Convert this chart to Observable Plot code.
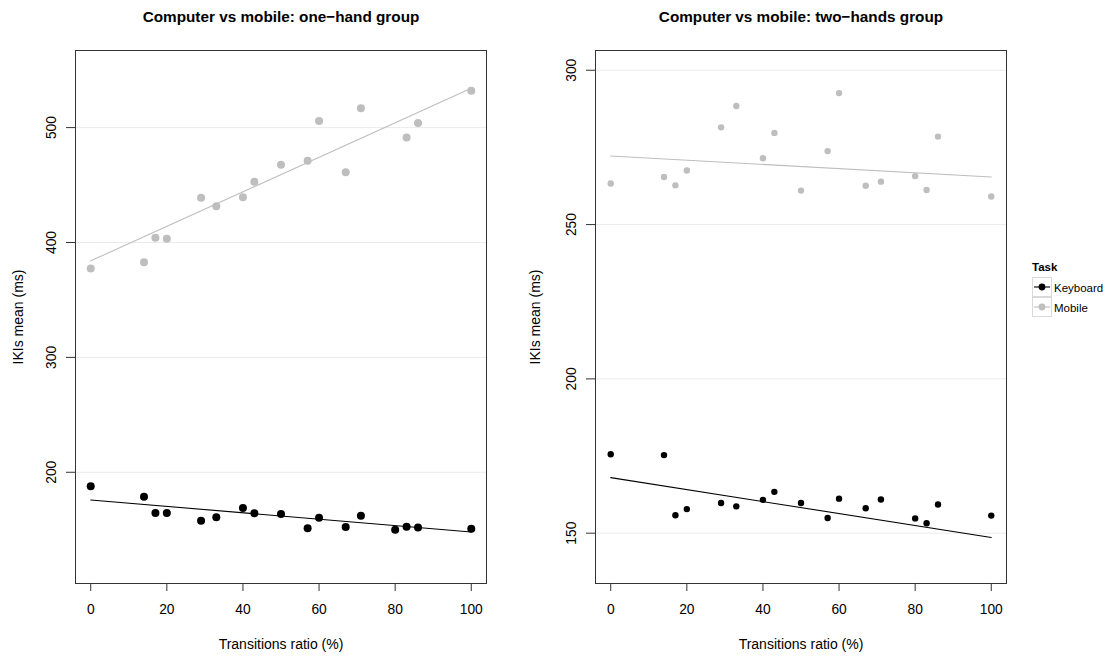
<!DOCTYPE html>
<html>
<head>
<meta charset="utf-8">
<script src="https://cdn.jsdelivr.net/npm/d3@7"></script>
<script src="https://cdn.jsdelivr.net/npm/@observablehq/plot@0.6"></script>
<style>
  html, body { margin: 0; padding: 0; background: #fff; }
  #root { position: relative; width: 1110px; height: 657px; font-family: "Liberation Sans", Arial, Helvetica, sans-serif; }
  .panel { position: absolute; top: 0; }
  #legend { position: absolute; left: 1026px; top: 255px; }
</style>
</head>
<body>
<div id="root"></div>
<script>
// ---- data ----
const ratio = [0, 14, 17, 20, 29, 33, 40, 43, 50, 57, 60, 67, 71, 80, 83, 86, 100];

const oneHandKeyboard = [187.8, 178.8, 164.6, 164.6, 157.9, 160.8, 169.0, 164.3, 163.7, 151.2, 160.5, 152.3, 162.2, 150.0, 152.6, 152.0, 150.9];
const oneHandMobile   = [377.4, 382.7, 404.1, 403.2, 439.0, 431.5, 439.3, 452.9, 467.7, 471.2, 505.8, 461.1, 516.9, null, 491.3, 504.1, 532.0];

const twoHandsKeyboard = [175.6, 175.3, 155.8, 157.8, 159.8, 158.7, 160.8, 163.4, 159.8, 154.9, 161.2, 158.1, 160.9, 154.8, 153.2, 159.3, 155.7];
const twoHandsMobile   = [263.3, 265.4, 262.7, 267.5, 281.5, 288.4, 271.5, 279.7, 261.0, 273.8, 292.6, 262.6, 263.9, 265.7, 261.2, 278.5, 259.1];

// fitted trend lines (end points at ratio 0 and 100)
const fitRatio = [0, 100];
const oneHandKeyboardFit  = [175.9, 148.0];
const oneHandMobileFit    = [384.0, 534.3];
const twoHandsKeyboardFit = [168.0, 148.6];
const twoHandsMobileFit   = [272.2, 265.4];

const xTicks = [0, 20, 40, 60, 80, 100];
const oneHandYTicks = [200, 300, 400, 500];
const twoHandsYTicks = [150, 200, 250, 300];

const titles = ["Computer vs mobile: one\u2212hand group", "Computer vs mobile: two\u2212hands group"];
const xLabel = "Transitions ratio (%)";
const yLabel = "IKIs mean (ms)";
const taskNames = ["Keyboard", "Mobile"];
const taskColors = ["#000000", "#bebebe"];

// ---- panels ----
function panel({title, kb, mob, kbFit, mobFit, yDomain, yTicks, r, yLabelDx}) {
  return Plot.plot({
    width: 520,
    height: 657,
    marginLeft: 75,
    marginRight: 34,
    marginTop: 50,
    marginBottom: 74,
    style: {fontFamily: "'Liberation Sans', Arial, Helvetica, sans-serif", fontSize: "13.8px", background: "transparent", overflow: "visible"},
    x: {domain: [-4, 104]},
    y: {domain: yDomain},
    marks: [
      Plot.gridY(yTicks, {stroke: "#ebebeb", strokeOpacity: 1}),
      Plot.line(fitRatio, {x: fitRatio, y: mobFit, stroke: taskColors[1], strokeWidth: 1.1}),
      Plot.line(fitRatio, {x: fitRatio, y: kbFit, stroke: taskColors[0], strokeWidth: 1.1}),
      Plot.dot(ratio, {x: ratio, y: mob, r, fill: taskColors[1], stroke: "none"}),
      Plot.dot(ratio, {x: ratio, y: kb, r, fill: taskColors[0], stroke: "none"}),
      Plot.frame({stroke: "#333333"}),
      Plot.axisX(xTicks, {tickSize: 8, tickPadding: 13, label: null, stroke: "#333333", fill: "#000", fontSize: 13.8}),
      Plot.axisY(yTicks, {tickSize: 9, tickPadding: 11, tickRotate: -90, label: null, stroke: "#333333", fill: "#000", fontSize: 13.8}),
      Plot.text([title], {frameAnchor: "top", dy: -33, text: d => d, fontWeight: "bold", fontSize: 15.3, textAnchor: "middle", lineAnchor: "middle"}),
      Plot.text([xLabel], {frameAnchor: "bottom", dy: 61, text: d => d, fontSize: 14, textAnchor: "middle", lineAnchor: "middle"}),
      Plot.text([yLabel], {frameAnchor: "left", dx: yLabelDx, rotate: -90, text: d => d, fontSize: 14, textAnchor: "middle", lineAnchor: "middle"})
    ]
  });
}

const root = document.getElementById("root");

const left = panel({
  title: titles[0], kb: oneHandKeyboard, mob: oneHandMobile,
  kbFit: oneHandKeyboardFit, mobFit: oneHandMobileFit,
  yDomain: [103.2, 567.1], yTicks: oneHandYTicks, r: 4, yLabelDx: -57
});
left.classList.add("panel");
left.style.left = "0px";
root.appendChild(left);

const right = panel({
  title: titles[1], kb: twoHandsKeyboard, mob: twoHandsMobile,
  kbFit: twoHandsKeyboardFit, mobFit: twoHandsMobileFit,
  yDomain: [133.7, 306.4], yTicks: twoHandsYTicks, r: 3.2, yLabelDx: -60
});
right.classList.add("panel");
right.style.left = "520px";
root.appendChild(right);

// ---- legend ----
const ns = "http://www.w3.org/2000/svg";
const lg = document.createElementNS(ns, "svg");
lg.setAttribute("width", 84);
lg.setAttribute("height", 70);
lg.id = "legend";
lg.style.fontFamily = "'Liberation Sans', Arial, Helvetica, sans-serif";
function el(tag, attrs, text) {
  const e = document.createElementNS(ns, tag);
  for (const k in attrs) e.setAttribute(k, attrs[k]);
  if (text != null) e.textContent = text;
  lg.appendChild(e);
  return e;
}
el("text", {x: 6, y: 13, "font-size": 11.5, "font-weight": "bold", "dominant-baseline": "middle"}, "Task");
taskNames.forEach((name, i) => {
  const y0 = 22 + i * 20;
  el("rect", {x: 6.5, y: y0 + 0.5, width: 19, height: 19, fill: "#fff", stroke: "#d9d9d9", "stroke-width": 1});
  el("line", {x1: 8, x2: 24, y1: y0 + 10, y2: y0 + 10, stroke: taskColors[i], "stroke-width": 1.1});
  el("circle", {cx: 16, cy: y0 + 10, r: 3.4, fill: taskColors[i]});
  el("text", {x: 28, y: y0 + 12, "font-size": 11.5, "dominant-baseline": "middle"}, name);
});
root.appendChild(lg);
</script>
</body>
</html>
